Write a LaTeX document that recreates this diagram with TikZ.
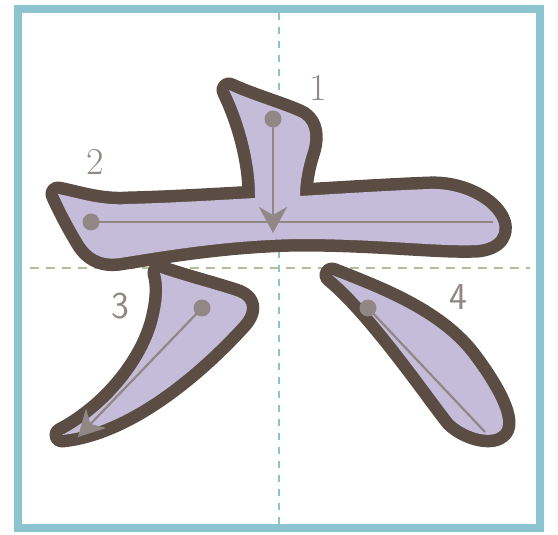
\documentclass[tikz,border=0pt]{standalone}
\usetikzlibrary{arrows.meta}
\definecolor{frameblue}{HTML}{8BC3CF}
\definecolor{guidegreen}{HTML}{B4BF98}
\definecolor{outline}{HTML}{5B4C44}
\definecolor{lav}{HTML}{C4BCD8}
\definecolor{gr}{HTML}{918886}
\tikzset{
  outl/.style={draw=outline,line width=25pt,line join=round},
  fil/.style={fill=lav},
  guide/.style={gr,line width=2.2pt},
  dot/.style={circle,fill=gr,inner sep=0pt,minimum size=17pt},
  num/.style={text=gr,font=\fontsize{38}{38}\selectfont,inner sep=0pt},
  numsf/.style={num,font=\fontsize{38}{38}\selectfont\sffamily},
  tipb/.style={-{Stealth[length=26pt,width=28pt,inset=8pt]}}
}
\begin{document}
\begin{tikzpicture}[x=1pt,y=-1pt]
\useasboundingbox (0,0) rectangle (558,535);
% frame
\draw[frameblue,line width=8pt] (18,9) rectangle (540,528);
\draw[frameblue,line width=2pt,dash pattern=on 7pt off 7pt] (279,13) -- (279,524);
\draw[guidegreen,line width=2pt,dash pattern=on 9pt off 7pt] (30,268) -- (530,268);
% shapes
\def\sA{(229,90) .. controls (250,100) and (288,111) .. (301,118) .. controls (312,125) and (312,140) .. (307,154) .. controls (302,170) and (300,185) .. (300,195) -- (300,214) -- (256,214) -- (255,195) .. controls (255,165) and (246,125) .. (229,90) -- cycle}
\def\sB{(58,194) .. controls (75,197) and (100,206) .. (128,204) .. controls (170,203) and (220,200) .. (255,198) -- (300,196) .. controls (350,193) and (400,190) .. (430,189) .. controls (455,188) and (478,198) .. (490,210) .. controls (505,225) and (503,242) .. (478,245) .. controls (440,247) and (380,239) .. (300,239) .. controls (230,240) and (170,250) .. (120,258) .. controls (100,261) and (90,252) .. (84,243) .. controls (76,230) and (66,212) .. (58,194) -- cycle}
\def\sC{(160,273) .. controls (190,283) and (225,292) .. (238,297) .. controls (250,302) and (249,312) .. (240,322) .. controls (200,366) and (130,428) .. (62,435) .. controls (110,410) and (150,360) .. (159,315) .. controls (163,297) and (163,284) .. (160,273) -- cycle}
\def\sD{(332,275) .. controls (375,292) and (435,314) .. (468,356) .. controls (494,390) and (510,422) .. (500,431) .. controls (492,439) and (468,434) .. (453,420) .. controls (435,398) and (375,310) .. (332,275) -- cycle}
\path[outl] \sA;
\path[outl] \sB;
\path[outl] \sC;
\path[outl] \sD;
\path[fil] \sA;
\path[fil] \sB;
\path[fil] \sC;
\path[fil] \sD;
% guides
\node[dot] (d1) at (273,119) {};
\coordinate (e1) at (273,233);
\node[dot] (d2) at (91,222) {};
\coordinate (e2) at (493,222);
\node[dot] (d3) at (202,308) {};
\coordinate (e3) at (78,437);
\node[dot] (d4) at (368,308) {};
\coordinate (e4) at (485,432);
\draw[guide] (d2.center) -- (e2);
\draw[guide,tipb] (d1.center) -- (e1);
\draw[guide,tipb] (d3.center) -- (e3);
\draw[guide] (d4.center) -- (e4);
% numbers
\node[num] (n1) at (318,88) {1};
\node[num] (n2) at (95,162) {2};
\node[numsf] (n3) at (120,306) {3};
\node[numsf] (n4) at (458,297) {4};
\end{tikzpicture}
\end{document}
